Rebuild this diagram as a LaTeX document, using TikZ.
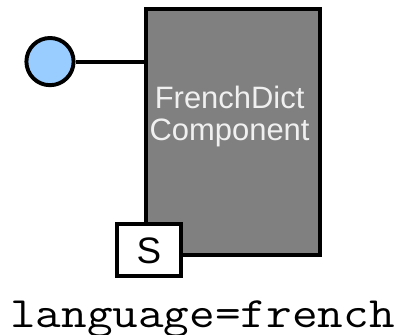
\documentclass[tikz,border=0pt]{standalone}
\usepackage{fontspec}
\setmainfont{Liberation Sans}
\newfontfamily\propfont[FakeStretch=1.15]{Latin Modern Mono}
\tikzset{
  comp/.style={draw=black,fill=black!50,line width=2.8pt,minimum width=4.36cm,minimum height=6.15cm,inner sep=0pt},
  port/.style={draw=black,fill=portblue,circle,line width=2.8pt,minimum size=1.18cm,inner sep=0pt},
  svc/.style={draw=black,fill=white,line width=2.8pt,minimum width=1.6cm,minimum height=1.3cm,inner sep=0pt},
  wire/.style={draw=black,line width=2.8pt}
}
\definecolor{portblue}{RGB}{153,204,255}

\begin{document}
\begin{tikzpicture}
    \useasboundingbox (0,0) rectangle (10,8.35);
    \node[comp] (dict) at (5.83,5.05) {};
    \node[align=center,text=white!94!black,font=\fontsize{22}{22.7}\selectfont] (dictname) at (5.74,5.43) {FrenchDict\\Component};
    \node[port] (iface) at (1.25,6.81) {};
    \draw[wire] (iface) -- (iface -| dict.west);
    \node[svc] (svcS) at (3.725,2.09) {\fontsize{26.2}{28}\selectfont S};
    \node[anchor=base,font=\propfont\fontsize{30.8}{32}\selectfont] (prop) at (5.06,0.175) {language=french};
\end{tikzpicture}
\end{document}
